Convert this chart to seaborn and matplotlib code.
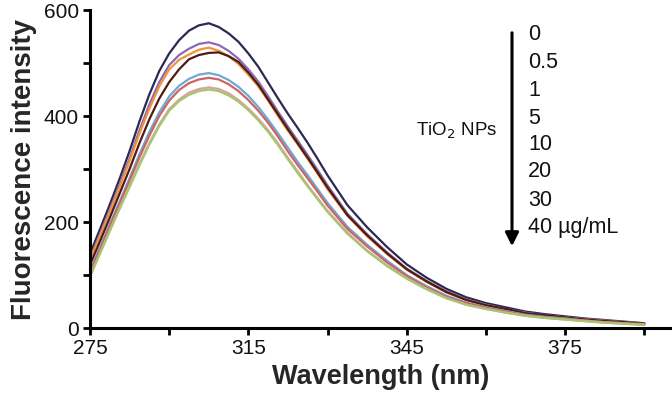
import pandas as pd
import numpy as np
import matplotlib
matplotlib.use("Agg")
import matplotlib.pyplot as plt
import seaborn as sns

# scan positions along the category axis (one unit = one tick), read densely around the peak
scan = [0, 0.125, 0.25, 0.375, 0.5, 0.625, 0.75, 0.875, 1.0, 1.125, 1.25, 1.375, 1.5,
        1.625, 1.75, 1.875, 2.0, 2.125, 2.25, 2.375, 2.5, 2.625, 2.75, 2.875, 3.0,
        3.25, 3.5, 3.75, 4.0, 4.25, 4.5, 4.75, 5.0, 5.25, 5.5, 5.75, 6.0, 6.25, 6.5, 6.75, 7.0]
tick_labels = ["275", "", "315", "", "345", "", "375", ""]

conc_labels = ["0", "0.5", "1", "5", "10", "20", "30", "40 µg/mL"]

i_0 = [140, 186, 233, 282, 334, 390, 441, 485, 518, 543, 561, 571, 575,
       568, 556, 540, 518, 493, 463, 433, 404, 377, 349, 319, 288,
       232, 190, 153, 120, 95, 74, 58, 47, 39, 31, 26, 22, 18, 15, 12, 9]
i_05 = [131, 177, 223, 271, 320, 373, 422, 464, 496, 515, 527, 536, 539,
        534, 523, 508, 488, 465, 437, 408, 380, 353, 326, 298, 269,
        216, 177, 143, 112, 89, 69, 54, 44, 36, 29, 24, 20, 17, 14, 11, 8]
i_1 = [128, 173, 219, 266, 315, 367, 414, 456, 488, 506, 516, 525, 529,
       523, 513, 498, 478, 456, 429, 400, 372, 346, 319, 291, 262,
       212, 173, 140, 110, 87, 67, 53, 43, 35, 28, 23, 20, 16, 13, 11, 8]
i_5 = [119, 163, 208, 254, 300, 349, 394, 433, 464, 488, 507, 515, 519,
       520, 513, 502, 482, 459, 431, 403, 375, 348, 321, 293, 265,
       213, 175, 141, 111, 88, 68, 53, 43, 36, 28, 24, 20, 16, 13, 11, 8]
i_10 = [108, 152, 196, 239, 283, 328, 370, 407, 437, 457, 470, 478, 481,
        477, 468, 455, 438, 417, 393, 367, 340, 313, 288, 262, 236,
        191, 157, 127, 100, 79, 61, 48, 39, 32, 25, 21, 18, 14, 11, 9, 7]
i_20 = [105, 148, 192, 235, 278, 322, 363, 400, 429, 449, 462, 469, 472,
        469, 460, 447, 430, 410, 387, 361, 333, 307, 282, 257, 231,
        187, 154, 124, 98, 77, 59, 47, 38, 31, 24, 20, 17, 14, 11, 9, 7]
i_30 = [98, 141, 184, 227, 268, 310, 349, 384, 413, 431, 444, 451, 454,
        451, 443, 430, 414, 395, 373, 348, 321, 295, 269, 245, 221,
        180, 146, 118, 94, 74, 57, 44, 36, 29, 23, 19, 16, 13, 10, 8, 6]
i_40 = [97, 140, 183, 225, 266, 307, 346, 381, 410, 428, 440, 447, 450,
        447, 439, 427, 411, 392, 370, 345, 318, 292, 267, 243, 219,
        178, 145, 117, 93, 73, 56, 44, 36, 29, 23, 19, 16, 13, 10, 8, 6]

series = [i_0, i_05, i_1, i_5, i_10, i_20, i_30, i_40]
colors = ["#2b2953", "#8a6bb0", "#f0923e", "#4e1c12", "#6aa9d8", "#cc6466", "#d9a0a6", "#a5c76b"]

rows = []
for lab, vals in zip(conc_labels, series):
    for x, v in zip(scan, vals):
        rows.append({"scan": x, "intensity": v, "conc": lab})
df = pd.DataFrame(rows)

sns.set_style("white")
plt.rcParams['font.family'] = ['Liberation Sans', 'DejaVu Sans']

fig = plt.figure(figsize=(6.72, 4.04), dpi=100)
ax = fig.add_axes([90 / 672, 76 / 404, 582 / 672, 318 / 404])

sns.lineplot(data=df, x="scan", y="intensity", hue="conc", hue_order=conc_labels,
             palette=colors, linewidth=1.6, legend=False, ax=ax)

ax.set_xlim(0, 7.35)
ax.set_ylim(0, 600)
ax.set_xticks(np.arange(0, 8, 1))
ax.set_xticklabels(tick_labels)
ax.set_yticks(np.arange(0, 700, 100))
ax.set_yticklabels(["0", "", "200", "", "400", "", "600"])

for s in ["top", "right"]:
    ax.spines[s].set_visible(False)
for s in ["left", "bottom"]:
    ax.spines[s].set_color("black")
    ax.spines[s].set_linewidth(2.2)
ax.tick_params(axis="both", direction="out", length=5, width=2, color="black",
               labelsize=15, labelcolor="#111111", pad=3, left=True, bottom=True)

ax.set_xlabel("Wavelength (nm)", fontsize=19.5, fontweight="bold", labelpad=4)
ax.set_ylabel("Fluorescence intensity", fontsize=20, fontweight="bold", labelpad=5)

# concentration arrow and labels
ax.annotate("", xy=(512 / 672, 1 - 249 / 404), xytext=(512 / 672, 1 - 30 / 404),
            xycoords="figure fraction", textcoords="figure fraction",
            arrowprops=dict(arrowstyle="-|>", color="black", lw=2.2, mutation_scale=20))
label_y = [35, 63, 90, 118, 145, 172, 200, 228]
for lab, yy in zip(conc_labels, label_y):
    fig.text(528 / 672, 1 - yy / 404, lab, fontsize=15.5, ha="left", va="center", color="#111111")
fig.text(497 / 672, 1 - 131 / 404, "TiO$_2$ NPs", fontsize=13.5, ha="right", va="center", color="#111111")

fig.savefig("out.png", dpi=100)
